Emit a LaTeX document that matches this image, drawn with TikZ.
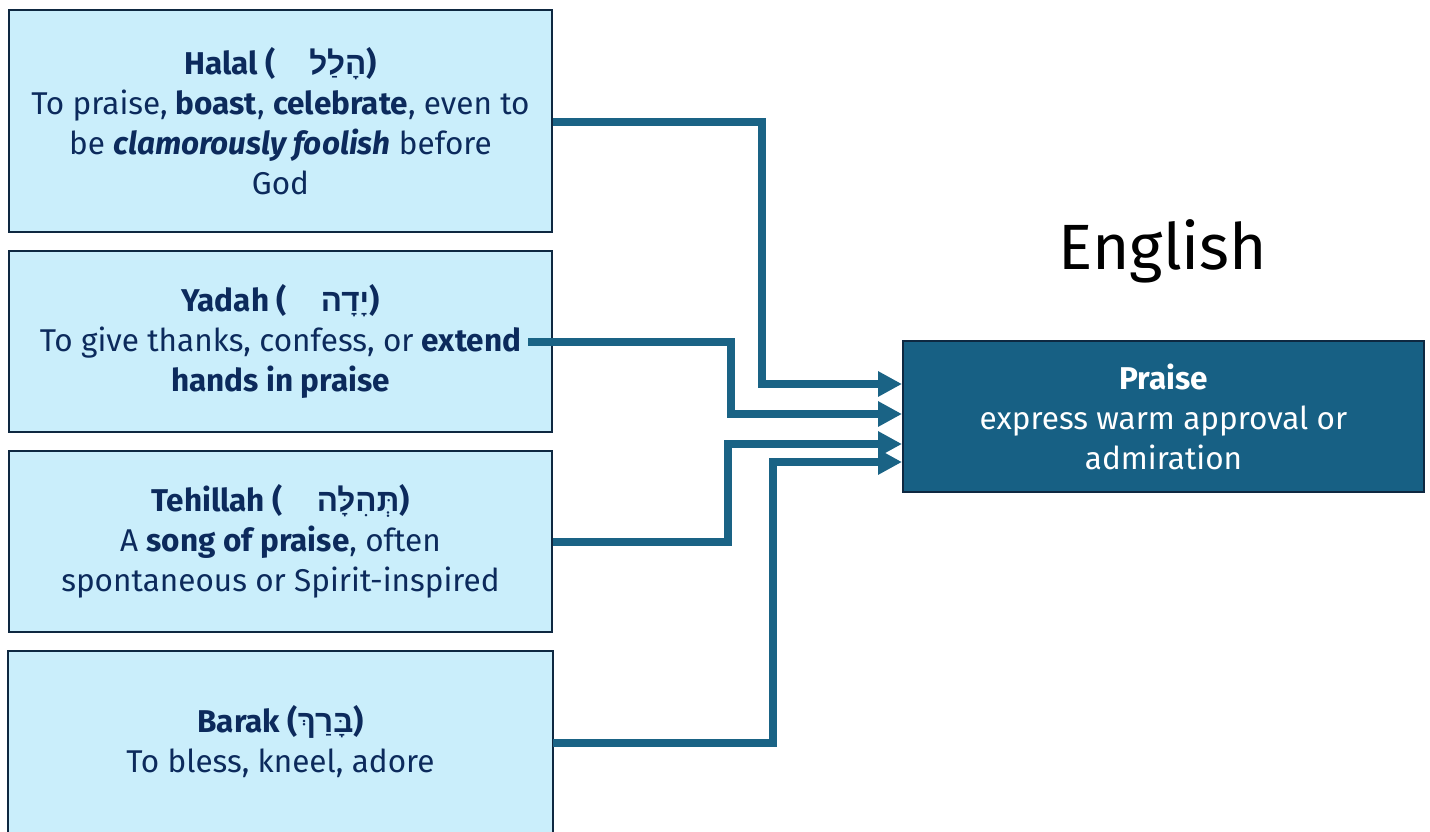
\documentclass[tikz,border=0pt]{standalone}
\usepackage{fontspec}
\setmainfont{Fira Sans}
\newfontfamily\heb[Script=Hebrew]{Liberation Sans}
\TeXXeTstate=1
\usetikzlibrary{arrows.meta}
\definecolor{lightbox}{HTML}{CAEEFB}
\definecolor{boxline}{HTML}{0E2841}
\definecolor{txt}{HTML}{0C2A5C}
\definecolor{praisefill}{HTML}{176084}
\definecolor{arrowc}{HTML}{1A6385}
\begin{document}
\begin{tikzpicture}[x=1pt,y=-1pt,
  wordbox/.style={draw=boxline, line width=2pt, fill=lightbox, minimum width=543pt,
    align=center, inner sep=0pt, font=\fontsize{31.5}{40}\selectfont, text=txt},
  targetbox/.style={draw=boxline, line width=2pt, fill=praisefill, minimum width=521pt,
    minimum height=151pt, align=center, inner sep=0pt, font=\fontsize{31.5}{40}\selectfont, text=white},
  link/.style={draw=arrowc, line width=8pt, line join=miter,
    -{Triangle[length=24pt,width=24pt]}}]
\useasboundingbox (0,0) rectangle (1430,832);

\node[wordbox, minimum height=222pt] (b1) at (280.5,121)
  {\textbf{Halal (\hspace{34pt}{\heb\beginR הָלַל\endR})}\\
   To praise, \textbf{boast}, \textbf{celebrate}, even to\\
   be \textbf{\textit{clamorously foolish}} before\\
   God};
\node[wordbox, minimum height=181pt] (b2) at (280.5,341.5)
  {\textbf{Yadah (\hspace{34pt}{\heb\beginR יָדָה\endR})}\\
   To give thanks, confess, or \textbf{extend}\\
   \textbf{hands in praise}};
\node[wordbox, minimum height=181pt] (b3) at (280.5,541.5)
  {\textbf{Tehillah (\hspace{34pt}{\heb\beginR תְּהִלָּה\endR})}\\
   A \textbf{song of praise}, often\\
   spontaneous or Spirit-inspired};
\node[wordbox, draw=none, minimum height=180pt] (b4) at (280.5,742)
  {\textbf{Barak ({\heb\beginR בָּרַךְ\endR})}\\
   To bless, kneel, adore};
\draw[boxline, line width=2pt] ([yshift=-4pt]b4.south west) -- (b4.north west) -- (b4.north east) -- ([yshift=-4pt]b4.south east);

\node[font=\fontsize{64}{72}\selectfont, text=black] (eng) at (1163,251) {English};

\node[targetbox] (praise) at (1163.5,416.5)
  {\textbf{Praise}\\ express warm approval or\\ admiration};

\coordinate (c1) at (762,0);
\coordinate (c2) at (731,0);
\coordinate (c3) at (728,0);
\coordinate (c4) at (773,0);

\draw[link] ([yshift=-1pt]b1.east) -| (c1 |- 0,384) -- ([yshift=32.5pt]praise.west);
\draw[link] ([xshift=-25pt,yshift=-0.5pt]b2.east) -| (c2 |- 0,414) -- ([yshift=2.5pt]praise.west);
\draw[link] ([yshift=-0.5pt]b3.east) -| (c3 |- 0,444) -- ([yshift=-27.5pt]praise.west);
\draw[link] ([yshift=-1pt]b4.east) -| (c4 |- 0,462) -- ([yshift=-45.5pt]praise.west);
\end{tikzpicture}
\end{document}
